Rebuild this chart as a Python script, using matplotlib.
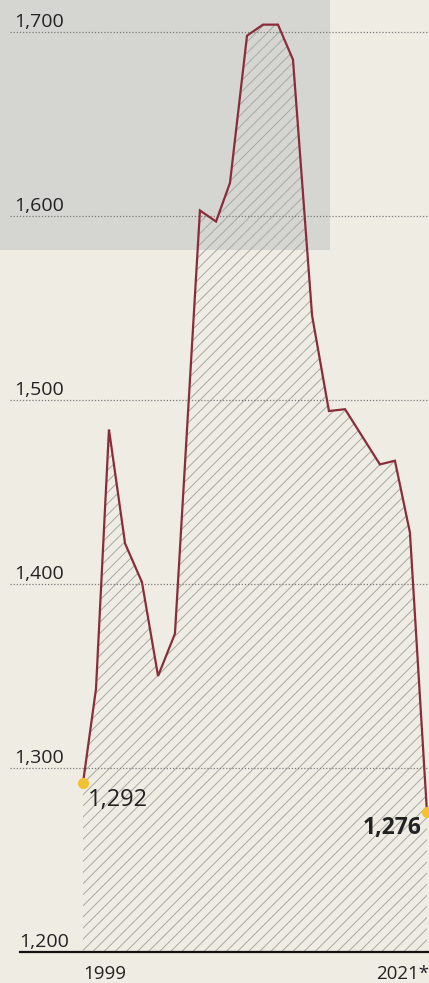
import matplotlib
matplotlib.use("Agg")
import matplotlib.pyplot as plt
from matplotlib.patches import Rectangle

# values (fractional years where the vertices fall)
years = [1999.00, 1999.83, 2000.66, 2001.69, 2002.77, 2003.80, 2004.88,
         2006.48, 2007.51, 2008.40, 2009.49, 2010.51, 2011.47, 2012.43,
         2013.65, 2014.73, 2015.76, 2017.99, 2018.95, 2019.91, 2021.00]
values = [1292, 1343, 1484, 1422, 1401, 1350, 1373,
          1603, 1597, 1618, 1698, 1704, 1704, 1685,
          1546, 1494, 1495, 1465, 1467, 1428, 1276]

grid_values = [1300, 1400, 1500, 1600, 1700]
grid_labels = ["1,300", "1,400", "1,500", "1,600", "1,700"]
base_value = 1200
base_label = "1,200"
first_label = "1999"
last_label = "2021*"
start_label = "1,292"
end_label = "1,276"

paper = "#eeece3"
line_color = "#8a2d3b"
dot_color = "#f2c230"
text_color = "#222222"

plt.rcParams["font.family"] = ["Open Sans", "DejaVu Sans"]
plt.rcParams["hatch.linewidth"] = 0.7

fig = plt.figure(figsize=(4.29, 9.83), dpi=100, facecolor=paper)
ax = fig.add_axes([0, 0, 1, 1])
ax.set_facecolor(paper)
ax.axis("off")
ax.set_xlim(1993.69, 2021.13)
ax.set_ylim(1183.15, 1717.4)

# grey show-through of the newsprint in the top left
ax.add_patch(Rectangle((0, 1 - 250 / 983), 330 / 429, 250 / 983,
                       transform=ax.transAxes, facecolor="#d5d5d2",
                       edgecolor="none", zorder=0))

# hatched area under the line
ax.fill_between(years, values, base_value, facecolor="none",
                edgecolor="#a8a8a4", hatch="///", linewidth=0, zorder=1)

# dotted gridlines and labels
for v, lab in zip(grid_values, grid_labels):
    ax.axhline(v, xmin=10 / 429, xmax=1, color="#7a7a7a", lw=0.9,
               ls=(0, (1, 1.5)), zorder=2)
    ax.text(1994.6, v + 2.5, lab, ha="left", va="baseline",
            fontsize=14, color=text_color, zorder=4)

ax.axhline(base_value, xmin=20 / 429, xmax=1, color="#111111", lw=1.6, zorder=3)
ax.text(1994.9, base_value + 2.5, base_label, ha="left", va="baseline",
        fontsize=14, color=text_color, zorder=4)

ax.plot(years, values, color=line_color, lw=1.6, zorder=5,
        solid_joinstyle="miter")
ax.plot([years[0], years[-1]], [values[0], values[-1]], "o", ms=7,
        color=dot_color, zorder=6, clip_on=False)

ax.text(years[0], base_value - 7, first_label, ha="left", va="top",
        fontsize=13.5, color=text_color)
ax.text(years[-1] + 0.13, base_value - 7, last_label, ha="right", va="top",
        fontsize=13.5, color=text_color)

ax.text(years[0] + 0.32, values[0] - 3, start_label, ha="left", va="top",
        fontsize=17, color=text_color, zorder=7)
ax.text(years[-1] - 0.32, values[-1] - 2, end_label, ha="right", va="top",
        fontsize=16.5, fontweight="bold", color=text_color, zorder=7)

fig.savefig("out.png", dpi=100, facecolor=paper)
